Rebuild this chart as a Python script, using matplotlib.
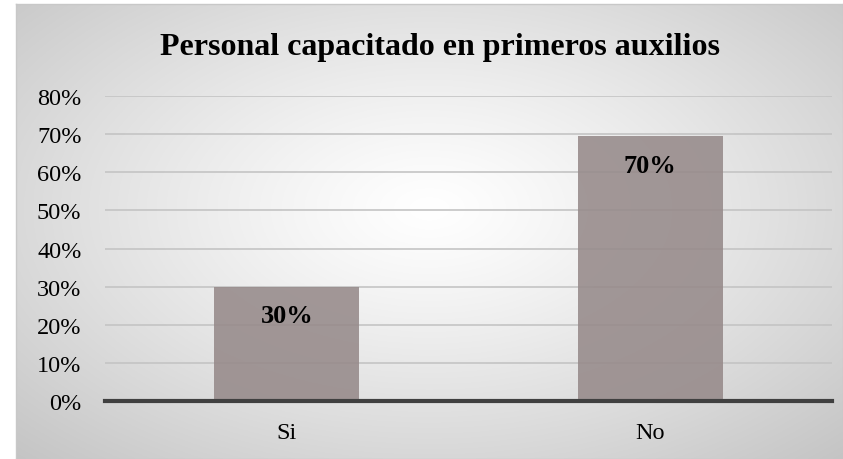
import matplotlib
matplotlib.use('Agg')
import matplotlib.pyplot as plt
import numpy as np
from matplotlib.ticker import PercentFormatter

categories = ['Si', 'No']
values = [0.30, 0.695]
labels = ['30%', '70%']
yticks = [0, 0.1, 0.2, 0.3, 0.4, 0.5, 0.6, 0.7, 0.8]

plt.rcParams['font.family'] = ['Liberation Serif', 'DejaVu Serif']

fig = plt.figure(figsize=(8.43, 4.60), dpi=100)

# fondo con degradado radial (blanco al centro, gris en los bordes)
bg = fig.add_axes([16 / 843, 0, 827 / 843, 455 / 460], zorder=0)
yy, xx = np.mgrid[-1:1:300j, -1:1:500j]
r = np.sqrt((xx * 0.95) ** 2 + ((yy + 0.1) * 0.9) ** 2)
g = 1 - 0.23 * np.clip(r / 1.37, 0, 1) ** 1.2
bg.imshow(np.dstack([g, g, g]), aspect='auto', extent=[0, 1, 0, 1])
bg.set_xticks([])
bg.set_yticks([])
for s in bg.spines.values():
    s.set_color('#c8c8c8')
    s.set_linewidth(1)

ax = fig.add_axes([105 / 843, (460 - 402) / 460, 727 / 843, 305 / 460], zorder=1)
ax.set_facecolor('none')

x = np.arange(len(categories))
bars = ax.bar(x, values, width=0.4, color='#968a8a', alpha=0.88, zorder=3)

for b, lab in zip(bars, labels):
    ax.annotate(lab, (b.get_x() + b.get_width() / 2, b.get_height()),
                xytext=(0, -21), textcoords='offset points',
                ha='center', va='center', fontsize=19, fontweight='bold', zorder=4)

ax.set_xlim(-0.5, 1.5)
ax.set_ylim(0, 0.8)
ax.set_yticks(yticks)
ax.yaxis.set_major_formatter(PercentFormatter(1.0, decimals=0))
ax.set_xticks(x)
ax.set_xticklabels(categories)
ax.tick_params(axis='both', length=0, labelsize=17.5)
ax.tick_params(axis='y', pad=17)
ax.tick_params(axis='x', pad=15)
ax.grid(axis='y', color='#c4c4c4', linewidth=1.2, zorder=1)
for s in ['top', 'right', 'left']:
    ax.spines[s].set_visible(False)
ax.spines['bottom'].set_color('#404040')
ax.spines['bottom'].set_linewidth(3)
ax.spines['bottom'].set_zorder(5)

fig.text(440 / 843, 1 - 48 / 460, 'Personal capacitado en primeros auxilios',
         ha='center', va='center', fontsize=23, fontweight='bold')

fig.savefig('out.png', dpi=100)
